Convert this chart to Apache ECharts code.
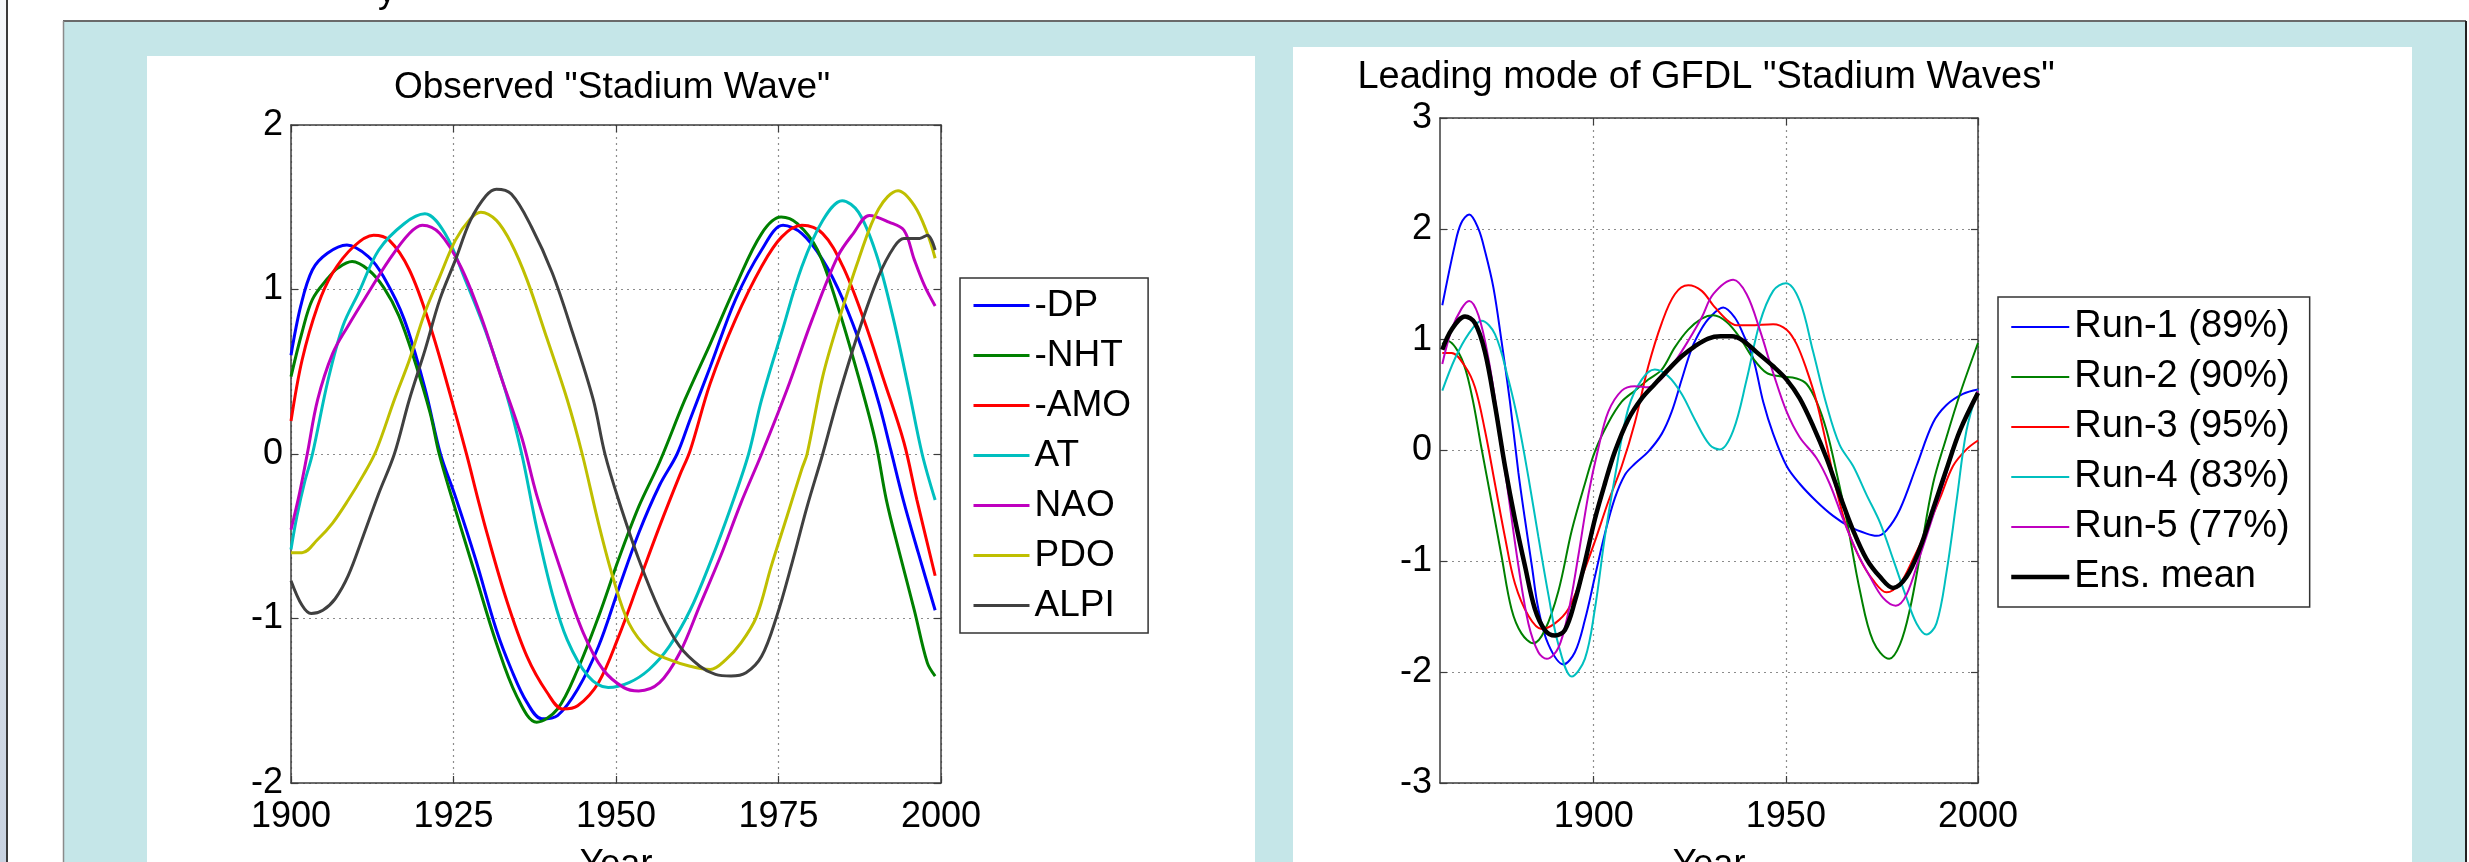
<!DOCTYPE html>
<html><head><meta charset="utf-8">
<script src="https://cdn.jsdelivr.net/npm/echarts@6/dist/echarts.min.js"></script>
<style>html,body{margin:0;padding:0;background:#fff;overflow:hidden;}#c{width:2469px;height:862px;}</style>
</head><body><div id="c"></div>
<script>
// ---------- Observed "Stadium Wave" (left panel) ----------
const obsNames = ['-DP', '-NHT', '-AMO', 'AT', 'NAO', 'PDO', 'ALPI'];
const obsDP = [[1900,0.60],[1901.5,0.90],[1903.3,1.12],[1905.6,1.22],[1908.6,1.27],[1911.9,1.20],[1914.2,1.08],[1917.4,0.82],[1920.6,0.40],[1923,0.0],[1925.3,-0.26],[1928.4,-0.64],[1931.6,-1.07],[1933.9,-1.31],[1936.3,-1.51],[1938.6,-1.61],[1941,-1.59],[1944.1,-1.43],[1947.3,-1.17],[1950.4,-0.82],[1953.5,-0.48],[1956.7,-0.19],[1959.4,0.0],[1961.4,0.21],[1964.5,0.53],[1968.4,0.94],[1972.4,1.24],[1975.7,1.39],[1978.6,1.34],[1981.8,1.18],[1984.9,0.94],[1988.1,0.61],[1990.5,0.30],[1992.3,0.02],[1994.2,-0.28],[1996.5,-0.60],[1999.1,-0.95]];
const obsNHT = [[1900,0.47],[1901.7,0.74],[1903.3,0.94],[1905.7,1.07],[1907.2,1.13],[1909.4,1.17],[1911.9,1.12],[1914.3,1.01],[1916.6,0.84],[1919,0.57],[1921.4,0.25],[1922.8,0.0],[1924.7,-0.26],[1928.4,-0.74],[1931.6,-1.15],[1934.7,-1.47],[1937.8,-1.63],[1941,-1.55],[1944.1,-1.31],[1947.3,-0.99],[1950.4,-0.64],[1953.5,-0.32],[1956.7,-0.05],[1960.6,0.33],[1964.5,0.67],[1968.4,1.02],[1972.4,1.34],[1975.4,1.44],[1977.9,1.40],[1981,1.24],[1984.1,0.90],[1987.3,0.47],[1989.9,0.08],[1991.6,-0.28],[1993.6,-0.60],[1995.9,-0.95],[1997.9,-1.27],[1999.1,-1.35]];
const obsAMO = [[1900,0.20],[1901.7,0.57],[1904.1,0.90],[1906.4,1.10],[1909.6,1.26],[1912.7,1.33],[1915.1,1.30],[1918.2,1.12],[1921.4,0.78],[1924.5,0.36],[1927,0.0],[1928.8,-0.28],[1930,-0.46],[1933.1,-0.88],[1936.3,-1.23],[1939.4,-1.45],[1941.8,-1.55],[1944.1,-1.53],[1947.3,-1.39],[1950.4,-1.11],[1953.5,-0.78],[1956.7,-0.44],[1959.8,-0.13],[1961.4,0.02],[1964.5,0.43],[1968.4,0.82],[1972.4,1.14],[1975.5,1.32],[1978.6,1.39],[1981.8,1.34],[1984.9,1.14],[1988.1,0.82],[1991.2,0.45],[1994.3,0.07],[1996.3,-0.28],[1999.1,-0.74]];
const obsAT = [[1900,-0.58],[1900.9,-0.38],[1902.1,-0.17],[1903.3,0.0],[1905.7,0.45],[1908,0.78],[1910.4,0.98],[1913.5,1.24],[1917.4,1.40],[1920.6,1.46],[1923.7,1.34],[1926.8,1.06],[1930,0.74],[1933.1,0.37],[1935.5,0.0],[1937.8,-0.45],[1940.2,-0.85],[1942.5,-1.13],[1945.7,-1.35],[1948.8,-1.42],[1952,-1.39],[1955.1,-1.31],[1958.2,-1.17],[1961.4,-0.95],[1964.5,-0.66],[1967.7,-0.32],[1970.4,0.0],[1972.4,0.33],[1975.5,0.74],[1978.6,1.14],[1981.8,1.42],[1984.8,1.54],[1987.3,1.47],[1990,1.22],[1992.5,0.85],[1995,0.40],[1997.1,0.0],[1999.1,-0.28]];
const obsNAO = [[1900,-0.46],[1901.3,-0.24],[1902.5,0.0],[1904.1,0.33],[1906.4,0.61],[1908.8,0.78],[1911.9,0.98],[1915.1,1.18],[1918.2,1.34],[1920.2,1.39],[1922.9,1.34],[1926.1,1.14],[1929.2,0.84],[1932.3,0.47],[1935.5,0.10],[1937.8,-0.25],[1941.8,-0.74],[1945,-1.09],[1948,-1.31],[1951.2,-1.42],[1953.5,-1.44],[1956.7,-1.39],[1959.8,-1.21],[1962.9,-0.92],[1966.1,-0.62],[1969.2,-0.30],[1972.4,0.0],[1976.3,0.39],[1980.2,0.82],[1984.1,1.20],[1986.5,1.34],[1989,1.45],[1992,1.41],[1994.3,1.36],[1995.9,1.18],[1997.5,1.02],[1999.1,0.90]];
const obsPDO = [[1900,-0.60],[1901.7,-0.60],[1904.1,-0.52],[1906.4,-0.42],[1908.8,-0.28],[1911.1,-0.13],[1913.1,0.02],[1915.9,0.33],[1918.2,0.57],[1920.6,0.86],[1922.9,1.08],[1925.3,1.30],[1927.6,1.43],[1929.2,1.47],[1931.6,1.42],[1933.9,1.28],[1936.3,1.06],[1939.4,0.70],[1942.5,0.33],[1944.8,0.0],[1947.3,-0.42],[1949.6,-0.76],[1952,-1.03],[1955.1,-1.19],[1958.2,-1.25],[1961.4,-1.29],[1964.5,-1.31],[1966.9,-1.25],[1969.2,-1.15],[1971.6,-0.99],[1973.9,-0.68],[1976.3,-0.38],[1978.6,-0.09],[1979.4,0.0],[1981.8,0.47],[1984.1,0.79],[1987.3,1.18],[1990.4,1.49],[1993.4,1.60],[1995.9,1.51],[1997.9,1.34],[1999.1,1.19]];
const obsALPI = [[1900,-0.77],[1901.7,-0.92],[1903.1,-0.97],[1904.9,-0.95],[1906.8,-0.88],[1908.8,-0.74],[1911.1,-0.50],[1913.5,-0.24],[1915.9,0.0],[1918.2,0.33],[1920.6,0.63],[1922.9,0.94],[1925.3,1.18],[1927.6,1.42],[1930,1.57],[1931.6,1.61],[1933.9,1.58],[1937,1.38],[1940.2,1.10],[1943.3,0.74],[1946.5,0.33],[1948.3,0.0],[1950.4,-0.28],[1953.5,-0.64],[1956.7,-0.95],[1959.8,-1.17],[1962.9,-1.29],[1965.3,-1.34],[1967.7,-1.35],[1970,-1.33],[1972.4,-1.23],[1974.7,-0.99],[1977.1,-0.66],[1979.4,-0.32],[1981.8,0.0],[1984.1,0.33],[1987.3,0.74],[1990.4,1.08],[1992.8,1.26],[1994.3,1.31],[1996.7,1.31],[1997.9,1.33],[1999.1,1.24]];

// ---------- Leading mode of GFDL "Stadium Waves" (right panel) ----------
const runNames = ['Run-1 (89%)', 'Run-2 (90%)', 'Run-3 (95%)', 'Run-4 (83%)', 'Run-5 (77%)', 'Ens. mean'];
const run1 = [[1860.6,1.31],[1863.9,1.86],[1865.5,2.05],[1867.6,2.13],[1870,2.0],[1871.7,1.80],[1873.9,1.47],[1876,0.99],[1878.2,0.44],[1880.4,-0.20],[1882.1,-0.62],[1883.9,-1.04],[1885.6,-1.43],[1888.2,-1.75],[1892.1,-1.93],[1895.1,-1.82],[1897.7,-1.53],[1900.3,-1.14],[1902.9,-0.75],[1905.5,-0.43],[1908.1,-0.22],[1910.7,-0.12],[1914.2,-0.01],[1917.7,0.15],[1920.3,0.35],[1922.9,0.64],[1925.5,0.92],[1928.1,1.10],[1930.2,1.20],[1933.7,1.29],[1936.7,1.20],[1938.9,1.05],[1941.5,0.83],[1944.1,0.44],[1946.7,0.15],[1950.2,-0.14],[1953.6,-0.30],[1958,-0.46],[1962.3,-0.59],[1966.7,-0.69],[1971,-0.75],[1973.6,-0.77],[1976.2,-0.72],[1979.7,-0.53],[1984,-0.14],[1988.3,0.25],[1991.8,0.41],[1996.1,0.51],[2000,0.55]];
const run2 = [[1860.6,0.96],[1861.8,0.99],[1865.6,0.83],[1868.2,0.51],[1870.8,0.02],[1873.4,-0.46],[1876,-0.95],[1878.6,-1.43],[1881.2,-1.65],[1884.3,-1.74],[1887.3,-1.62],[1890.8,-1.27],[1894.3,-0.72],[1897.7,-0.30],[1900.3,-0.01],[1903.8,0.25],[1907.3,0.44],[1910.7,0.54],[1914.2,0.64],[1917.7,0.73],[1921.1,0.93],[1924.6,1.09],[1928.1,1.19],[1931.1,1.22],[1934.6,1.16],[1938,1.02],[1941.5,0.83],[1945,0.70],[1948.4,0.67],[1952.8,0.65],[1955.4,0.60],[1958,0.44],[1960.6,0.18],[1963.2,-0.20],[1965.8,-0.62],[1969.3,-1.27],[1972.7,-1.72],[1976.9,-1.88],[1979.7,-1.75],[1982.3,-1.43],[1984.9,-0.95],[1988.3,-0.30],[1991.8,0.12],[1995.3,0.51],[2000,0.97]];
const run3 = [[1860.6,0.88],[1863,0.88],[1866.5,0.76],[1869.1,0.57],[1871.7,0.18],[1874.3,-0.30],[1876.9,-0.78],[1879.5,-1.20],[1883,-1.49],[1886.5,-1.61],[1889.9,-1.56],[1893.4,-1.43],[1896.9,-1.14],[1900.3,-0.82],[1903.8,-0.46],[1907.3,-0.14],[1910.7,0.25],[1914.2,0.76],[1917.7,1.15],[1921.1,1.41],[1924.6,1.49],[1928.1,1.44],[1931.1,1.31],[1934.6,1.18],[1937.2,1.13],[1940.6,1.13],[1946.7,1.14],[1950.2,1.09],[1952.8,0.96],[1955.4,0.73],[1958,0.44],[1960.6,0.05],[1963.2,-0.36],[1965.8,-0.69],[1969.3,-0.98],[1972.7,-1.17],[1976.2,-1.28],[1979.7,-1.20],[1983.1,-0.98],[1986.6,-0.72],[1990.1,-0.43],[1993.5,-0.14],[1997,0.01],[2000,0.09]];
const run4 = [[1860.6,0.54],[1863.9,0.83],[1867.4,1.05],[1870.8,1.17],[1874.3,1.05],[1877.8,0.64],[1880.4,0.25],[1883,-0.24],[1885.6,-0.78],[1888.2,-1.30],[1890.8,-1.75],[1894.3,-2.04],[1897.7,-1.88],[1900.3,-1.43],[1902.9,-0.78],[1905.5,-0.24],[1909,0.38],[1912.5,0.64],[1915.9,0.73],[1919.4,0.67],[1922.9,0.51],[1926.3,0.28],[1930.2,0.05],[1932.8,0.01],[1936.3,0.18],[1939.8,0.64],[1943.2,1.15],[1946.7,1.44],[1950,1.51],[1953.6,1.35],[1957.1,0.89],[1960.6,0.41],[1964,0.05],[1967.5,-0.14],[1971,-0.40],[1974.5,-0.65],[1977.9,-0.98],[1981.4,-1.33],[1984,-1.56],[1986.6,-1.66],[1989.2,-1.56],[1991.8,-1.10],[1994.4,-0.46],[1997,0.18],[2000,0.55]];
const run5 = [[1860.6,0.78],[1863,1.09],[1865.6,1.28],[1867.6,1.35],[1870,1.22],[1872.6,0.83],[1875.2,0.25],[1877.8,-0.40],[1880.4,-1.04],[1883,-1.56],[1885.6,-1.82],[1887.8,-1.88],[1890.8,-1.78],[1893.4,-1.46],[1896,-0.95],[1898.6,-0.40],[1901.2,0.02],[1903.8,0.35],[1907.3,0.54],[1910.7,0.58],[1914.2,0.57],[1917.7,0.65],[1921.1,0.80],[1924.6,0.99],[1928.1,1.20],[1931.1,1.41],[1936.3,1.54],[1939.8,1.41],[1943.2,1.09],[1946.7,0.70],[1950.2,0.35],[1953.6,0.12],[1958,-0.07],[1961.4,-0.30],[1964.9,-0.62],[1968.4,-0.91],[1971.9,-1.14],[1975.3,-1.33],[1978.6,-1.40],[1981.4,-1.30],[1984.9,-0.95],[1988.3,-0.59],[1991.8,-0.20],[1995.3,0.18],[2000,0.54]];
const ensMean = [[1860.6,0.91],[1863,1.09],[1866.5,1.21],[1869.1,1.15],[1871.7,0.89],[1874.3,0.41],[1876.9,-0.14],[1879.5,-0.62],[1882.1,-1.04],[1884.7,-1.43],[1887.3,-1.62],[1889.9,-1.67],[1892.5,-1.62],[1895.1,-1.36],[1897.7,-1.01],[1900.3,-0.62],[1902.9,-0.30],[1905.5,-0.01],[1909,0.28],[1912.5,0.47],[1915.9,0.60],[1919.4,0.73],[1922.9,0.85],[1926.3,0.94],[1929.8,1.01],[1933,1.03],[1936,1.03],[1938.9,0.99],[1942.3,0.89],[1946.7,0.76],[1950.2,0.64],[1953.6,0.47],[1957.1,0.22],[1960.6,-0.07],[1964,-0.40],[1967.5,-0.72],[1971,-0.98],[1974.5,-1.14],[1977.9,-1.24],[1981.4,-1.14],[1984.9,-0.88],[1988.3,-0.53],[1991.8,-0.17],[1995.3,0.18],[2000,0.52]];

// ---------- tick values ----------
const leftXTicks = [1900, 1925, 1950, 1975, 2000];
const leftYTicks = [-2, -1, 0, 1, 2];
const rightXTicks = [1900, 1950, 2000];
const rightYTicks = [-3, -2, -1, 0, 1, 2, 3];

const FONT = '"Liberation Sans", Arial, Helvetica, sans-serif';
const AX = '#3c3c3c';
const GRIDC = '#8c8c8c';
const obsColors = ['#0000ff', '#008000', '#ff0000', '#00bfbf', '#bf00bf', '#bfbf00', '#404040'];
const runColors = ['#0000ff', '#008000', '#ff0000', '#00bfbf', '#bf00bf', '#000000'];
const obsWidth = 3;
const runWidths = [2, 2, 2, 2, 2, 4.5];

function xAx(grid, pos, min, max, ticks, withLabels) {
  const o = {
    type: 'value', gridIndex: grid, position: pos, min: min, max: max,
    axisLine: { show: true, onZero: false, lineStyle: { color: AX, width: 1.5 } },
    axisTick: { show: true, inside: true, length: 7, lineStyle: { color: AX, width: 1.2 }, customValues: ticks },
    axisLabel: { show: withLabels, customValues: ticks, formatter: v => String(v), fontFamily: FONT, fontSize: 36, color: '#000', margin: 16 },
    splitLine: { show: withLabels, lineStyle: { color: GRIDC, width: 1.2, type: [2, 4] } }
  };
  if (withLabels) {
    o.name = 'Year'; o.nameLocation = 'middle'; o.nameGap = 64;
    o.nameTextStyle = { fontFamily: FONT, fontSize: 36, color: '#000' };
  }
  return o;
}
function yAx(grid, pos, min, max, ticks, withLabels) {
  return {
    type: 'value', gridIndex: grid, position: pos, min: min, max: max, interval: 1,
    axisLine: { show: true, onZero: false, lineStyle: { color: AX, width: 1.5 } },
    axisTick: { show: true, inside: true, length: 7, lineStyle: { color: AX, width: 1.2 } },
    axisLabel: { show: withLabels, formatter: v => String(v), fontFamily: FONT, fontSize: 36, color: '#000', margin: 8 },
    splitLine: { show: withLabels, lineStyle: { color: GRIDC, width: 1.2, type: [2, 4] } }
  };
}

const obsData = [obsDP, obsNHT, obsAMO, obsAT, obsNAO, obsPDO, obsALPI];
const runData = [run1, run2, run3, run4, run5, ensMean];
const series = [];
obsNames.forEach((n, i) => series.push({
  name: n, type: 'line', xAxisIndex: 0, yAxisIndex: 0, data: obsData[i],
  symbol: 'none', smooth: 0.35, color: obsColors[i], lineStyle: { width: obsWidth, color: obsColors[i] }, z: 3
}));
runNames.forEach((n, i) => series.push({
  name: n, type: 'line', xAxisIndex: 2, yAxisIndex: 2, data: runData[i],
  symbol: 'none', smooth: 0.35, color: runColors[i], lineStyle: { width: runWidths[i], color: runColors[i] }, z: 3
}));

const option = {
  animation: false,
  backgroundColor: '#ffffff',
  grid: [
    { left: 291, top: 125, width: 650, height: 658, outerBoundsMode: 'none', containLabel: false },
    { left: 1440, top: 118, width: 538, height: 665, outerBoundsMode: 'none', containLabel: false }
  ],
  xAxis: [
    xAx(0, 'bottom', 1900, 2000, leftXTicks, true),
    xAx(0, 'top', 1900, 2000, leftXTicks, false),
    xAx(1, 'bottom', 1860, 2000, rightXTicks, true),
    xAx(1, 'top', 1860, 2000, rightXTicks, false)
  ],
  yAxis: [
    yAx(0, 'left', leftYTicks[0], leftYTicks[leftYTicks.length - 1], leftYTicks, true),
    yAx(0, 'right', leftYTicks[0], leftYTicks[leftYTicks.length - 1], leftYTicks, false),
    yAx(1, 'left', rightYTicks[0], rightYTicks[rightYTicks.length - 1], rightYTicks, true),
    yAx(1, 'right', rightYTicks[0], rightYTicks[rightYTicks.length - 1], rightYTicks, false)
  ],
  legend: [
    {
      data: obsNames.map((n, i) => ({ name: n, lineStyle: { width: obsWidth, color: obsColors[i] } })),
      left: 960, top: 278, orient: 'vertical',
      padding: [9, 17, 9, 12], itemGap: 13, itemWidth: 56, itemHeight: 14,
      backgroundColor: '#fff', borderColor: '#333', borderWidth: 1.5, borderRadius: 0,
      itemStyle: { opacity: 0 },
      lineStyle: { width: obsWidth },
      textStyle: { fontFamily: FONT, fontSize: 37, lineHeight: 37, color: '#000' },
      selectedMode: false
    },
    {
      data: runNames.map((n, i) => ({ name: n, lineStyle: { width: runWidths[i], color: runColors[i] } })),
      left: 1998, top: 297, orient: 'vertical',
      padding: [11, 20, 11, 11], itemGap: 12, itemWidth: 58, itemHeight: 14,
      backgroundColor: '#fff', borderColor: '#333', borderWidth: 1.5, borderRadius: 0,
      itemStyle: { opacity: 0 },
      textStyle: { fontFamily: FONT, fontSize: 38, lineHeight: 38, color: '#000' },
      selectedMode: false
    }
  ],
  graphic: [
    { type: 'rect', silent: true, z: -100, shape: { x: 0, y: 0, width: 6, height: 862 },
      style: { fill: new echarts.graphic.LinearGradient(0, 0, 0, 1, [{ offset: 0, color: '#f6f8fa' }, { offset: 1, color: '#c8d2e0' }]) } },
    { type: 'rect', silent: true, z: -99, shape: { x: 6, y: 0, width: 2, height: 862 }, style: { fill: '#3a3a3a' } },
    { type: 'rect', silent: true, z: -98, shape: { x: 63, y: 21, width: 2403, height: 841 }, style: { fill: '#c5e6e8' } },
    { type: 'line', silent: true, z: -97, shape: { x1: 63, y1: 21, x2: 2466, y2: 21 }, style: { stroke: '#6a6a6a', lineWidth: 2 } },
    { type: 'line', silent: true, z: -97, shape: { x1: 63.5, y1: 21, x2: 63.5, y2: 862 }, style: { stroke: '#8a8a8a', lineWidth: 1.5 } },
    { type: 'line', silent: true, z: -97, shape: { x1: 2466, y1: 21, x2: 2466, y2: 862 }, style: { stroke: '#222', lineWidth: 2 } },
    { type: 'rect', silent: true, z: -96, shape: { x: 147, y: 56, width: 1108, height: 806 }, style: { fill: '#ffffff' } },
    { type: 'rect', silent: true, z: -96, shape: { x: 1293, y: 47, width: 1119, height: 815 }, style: { fill: '#ffffff' } },
    { type: 'text', silent: true, z: 10, x: 387, y: 10,
      style: { text: 'y', font: '36px ' + FONT, fill: '#000', align: 'center', verticalAlign: 'bottom' } },
    { type: 'text', silent: true, z: 10, x: 612, y: 88,
      style: { text: 'Observed "Stadium Wave"', font: '37px ' + FONT, fill: '#000', align: 'center', verticalAlign: 'middle' } },
    { type: 'text', silent: true, z: 10, x: 1706, y: 78,
      style: { text: 'Leading mode of GFDL "Stadium Waves"', font: '38px ' + FONT, fill: '#000', align: 'center', verticalAlign: 'middle' } }
  ],
  series: series
};

const chart = echarts.init(document.getElementById('c'), null, { renderer: 'canvas', width: 2469, height: 862 });
chart.setOption(option);
</script></body></html>
